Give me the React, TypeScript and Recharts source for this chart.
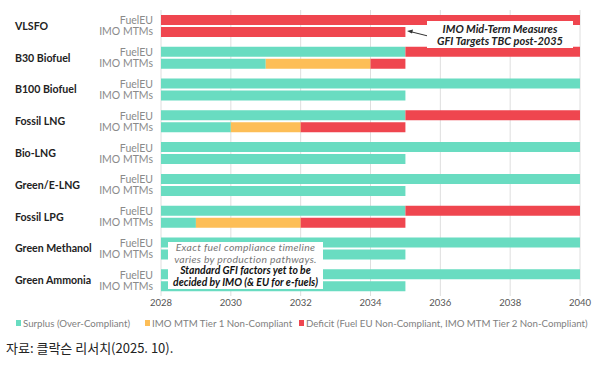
import { BarChart, Bar, XAxis, YAxis, CartesianGrid } from 'recharts';

const GREEN = '#69dcc1';
const ORANGE = '#fdbe57';
const RED = '#ef464f';
const FONT = 'Lato, "Noto Sans", sans-serif';

const fuels = [
  'VLSFO',
  'B30 Biofuel',
  'B100 Biofuel',
  'Fossil LNG',
  'Bio-LNG',
  'Green/E-LNG',
  'Fossil LPG',
  'Green Methanol',
  'Green Ammonia',
];
const schemes = ['FuelEU', 'IMO MTMs'];
const startYear = 2028;
const yearTicks = [2028, 2030, 2032, 2034, 2036, 2038, 2040];

// years spent in each compliance state, counted from 2028
const fuelEuSurplus = [0, 7, 12, 7, 12, 12, 7, 12, 12];
const fuelEuDeficit = [12, 5, 0, 5, 0, 0, 5, 0, 0];
const imoSurplus = [0, 3, 7, 2, 7, 7, 1, 7, 7];
const imoTier1 = [0, 3, 0, 2, 0, 0, 3, 0, 0];
const imoDeficit = [7, 1, 0, 3, 0, 0, 3, 0, 0];

const legendItems = [
  { label: 'Surplus (Over-Compliant)', color: GREEN, left: 16 },
  { label: 'IMO MTM Tier 1 Non-Compliant', color: ORANGE, left: 145 },
  { label: 'Deficit (Fuel EU Non-Compliant, IMO MTM Tier 2 Non-Compliant)', color: RED, left: 299 },
];

const data = fuels.map((fuel, i) => ({
  fuel,
  euBase: startYear,
  euSurplus: fuelEuSurplus[i],
  euDeficit: fuelEuDeficit[i],
  imoBase: startYear,
  imoSurplus: imoSurplus[i],
  imoTier1: imoTier1[i],
  imoDeficit: imoDeficit[i],
}));

function FuelTick(props: any) {
  const { y, payload } = props;
  return (
    <g fontFamily={FONT}>
      <text x={15} y={y} dominantBaseline="central" fontSize={10.6} fontWeight={700} fill="#222">
        {payload.value}
      </text>
      <text x={153} y={y - 5.5} dominantBaseline="central" textAnchor="end" fontSize={10.5} fill="#8a8a8a">
        {schemes[0]}
      </text>
      <text x={153} y={y + 5.5} dominantBaseline="central" textAnchor="end" fontSize={10.5} fill="#8a8a8a">
        {schemes[1]}
      </text>
    </g>
  );
}

export default function App() {
  return (
    <div style={{ position: 'relative', width: 600, height: 365, background: '#fff', fontFamily: FONT }}>
      <style>{'body{margin:0}'}</style>
      <BarChart
        width={600}
        height={315}
        data={data}
        layout="vertical"
        margin={{ top: 10, right: 20, left: 0, bottom: 0 }}
        barSize={10}
        barGap={2}
      >
        <CartesianGrid horizontal={false} stroke="#dedede" />
        <XAxis
          type="number"
          domain={[2028, 2040]}
          ticks={yearTicks}
          allowDataOverflow
          axisLine={false}
          tickLine={false}
          tickSize={0}
          tickMargin={3}
          height={19}
          tick={{ fontSize: 9.5, fill: '#555', fontFamily: FONT }}
        />
        <YAxis
          type="category"
          dataKey="fuel"
          width={161}
          interval={0}
          axisLine={false}
          tickLine={false}
          tick={<FuelTick />}
        />
        <Bar dataKey="euBase" stackId="eu" fill="transparent" isAnimationActive={false} />
        <Bar dataKey="euSurplus" stackId="eu" fill={GREEN} isAnimationActive={false} />
        <Bar dataKey="euDeficit" stackId="eu" fill={RED} isAnimationActive={false} />
        <Bar dataKey="imoBase" stackId="imo" fill="transparent" isAnimationActive={false} />
        <Bar dataKey="imoSurplus" stackId="imo" fill={GREEN} isAnimationActive={false} />
        <Bar dataKey="imoTier1" stackId="imo" fill={ORANGE} isAnimationActive={false} />
        <Bar dataKey="imoDeficit" stackId="imo" fill={RED} isAnimationActive={false} />
      </BarChart>

      {/* note on the post-2035 targets */}
      <svg width={40} height={20} style={{ position: 'absolute', left: 400, top: 25 }}>
        <line x1={28} y1={11} x2={10} y2={6.5} stroke="#333" strokeWidth={1} />
        <polygon points="7,6 13,4.6 12,8.6" fill="#333" />
      </svg>
      <div
        style={{
          position: 'absolute',
          left: 427,
          top: 21,
          width: 146,
          height: 27,
          background: '#fff',
          textAlign: 'center',
          fontSize: 11,
          lineHeight: '11.5px',
          fontWeight: 700,
          fontStyle: 'italic',
          color: '#222',
          paddingTop: 2,
          boxSizing: 'border-box',
        }}
      >
        IMO Mid-Term Measures
        <br />
        GFI Targets TBC post-2035
      </div>

      {/* note on the green fuels */}
      <div
        style={{
          position: 'absolute',
          left: 168,
          top: 242,
          width: 155,
          height: 47,
          background: '#fff',
          textAlign: 'center',
          fontSize: 10.4,
          lineHeight: '11.5px',
          fontStyle: 'italic',
          whiteSpace: 'nowrap',
        }}
      >
        <div style={{ color: '#777', letterSpacing: 0.3 }}>Exact fuel compliance timeline</div>
        <div style={{ color: '#777', letterSpacing: 0.3 }}>varies by production pathways.</div>
        <div style={{ color: '#111', fontWeight: 700 }}>Standard GFI factors yet to be</div>
        <div style={{ color: '#111', fontWeight: 700 }}>decided by IMO (&amp; EU for e-fuels)</div>
      </div>

      {legendItems.map((item) => (
        <div
          key={item.label}
          style={{
            position: 'absolute',
            left: item.left,
            top: 317,
            display: 'flex',
            alignItems: 'center',
            fontSize: 9.7,
            color: '#808080',
            whiteSpace: 'nowrap',
          }}
        >
          <span style={{ display: 'inline-block', width: 5, height: 6, background: item.color, marginRight: 2 }} />
          {item.label}
        </div>
      ))}

      <div
        style={{
          position: 'absolute',
          left: 6,
          top: 338,
          fontFamily: '"Noto Sans CJK KR", sans-serif',
          fontSize: 13,
          color: '#222',
          whiteSpace: 'nowrap',
        }}
      >
        자료: 클락슨 리서치(2025. 10).
      </div>
    </div>
  );
}
